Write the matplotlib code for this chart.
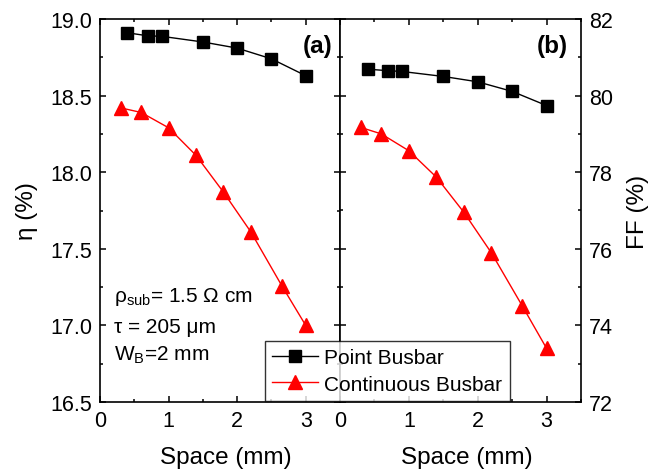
import numpy as np
import matplotlib
matplotlib.use("Agg")
import matplotlib.pyplot as plt
from matplotlib.ticker import MultipleLocator

plt.rcParams['font.family'] = ['Liberation Sans', 'DejaVu Sans']
plt.rcParams['mathtext.fontset'] = 'custom'
plt.rcParams['mathtext.rm'] = 'Liberation Sans'
plt.rcParams['mathtext.default'] = 'regular'

# Datos
x_point = [0.4, 0.7, 0.9, 1.5, 2.0, 2.5, 3.0]
x_cont = [0.3, 0.6, 1.0, 1.4, 1.8, 2.2, 2.65, 3.0]

eta_point = [18.91, 18.89, 18.887, 18.85, 18.81, 18.74, 18.63]
eta_cont = [18.42, 18.39, 18.29, 18.11, 17.87, 17.61, 17.26, 17.0]

ff_point = [80.69, 80.65, 80.63, 80.50, 80.36, 80.11, 79.74]
ff_cont = [79.17, 79.0, 78.56, 77.87, 76.95, 75.89, 74.50, 73.40]

fig = plt.figure(figsize=(6.5, 4.77), dpi=100)
ax1 = fig.add_axes([100/650, 74/477, 240/650, 383/477])
ax2 = fig.add_axes([340/650, 74/477, 241/650, 383/477])

def estilo(ax):
    ax.set_xlim(0, 3.5)
    ax.xaxis.set_major_locator(MultipleLocator(1))
    ax.xaxis.set_minor_locator(MultipleLocator(0.5))
    ax.tick_params(which='both', direction='in', top=True, bottom=True,
                   left=True, right=True, labelsize=15.5, width=1.1)
    ax.tick_params(which='major', length=4.5, pad=5.5)
    ax.tick_params(which='minor', length=2.5)
    for s in ax.spines.values():
        s.set_linewidth(1.2)
    ax.set_xlabel('Space (mm)', fontsize=17.5)
    ax.xaxis.set_label_coords(0.525, -0.115)

# Panel (a)
l1, = ax1.plot(x_point, eta_point, color='black', lw=1, marker='s', ms=8.5,
               label='Point Busbar')
l2, = ax1.plot(x_cont, eta_cont, color='red', lw=1, marker='^', ms=10,
               label='Continuous Busbar')
estilo(ax1)
ax1.set_ylim(16.5, 19.0)
ax1.yaxis.set_major_locator(MultipleLocator(0.5))
ax1.yaxis.set_minor_locator(MultipleLocator(0.25))
ax1.yaxis.set_major_formatter(matplotlib.ticker.FormatStrFormatter('%.1f'))
ax1.set_ylabel('η (%)', fontsize=17.5, labelpad=9)
ax1.text(0.905, 0.93, '(a)', transform=ax1.transAxes, fontsize=17.5,
         fontweight='bold', ha='center', va='center')
ax1.text(0.06, 0.278, r'ρ$_{sub}$= 1.5 Ω cm', transform=ax1.transAxes,
         fontsize=15, va='center')
ax1.text(0.06, 0.196, 'τ = 205 μm', transform=ax1.transAxes,
         fontsize=15, va='center')
ax1.text(0.06, 0.125, r'W$_{B}$=2 mm', transform=ax1.transAxes,
         fontsize=15, va='center')

# Panel (b)
ax2.plot(x_point, ff_point, color='black', lw=1, marker='s', ms=8.5)
ax2.plot(x_cont, ff_cont, color='red', lw=1, marker='^', ms=10)
estilo(ax2)
ax2.set_ylim(72, 82)
ax2.yaxis.set_major_locator(MultipleLocator(2))
ax2.yaxis.set_minor_locator(MultipleLocator(1))
ax2.tick_params(axis='y', labelleft=False, labelright=True)
ax2.yaxis.set_label_position('right')
ax2.set_ylabel('FF (%)', fontsize=17.5, labelpad=10)
ax2.text(0.88, 0.93, '(b)', transform=ax2.transAxes, fontsize=17.5,
         fontweight='bold', ha='center', va='center')

leg = fig.legend(handles=[l1, l2], loc='upper left',
                 bbox_to_anchor=(265/650, (477-342)/477), borderaxespad=0,
                 fontsize=15, frameon=True, fancybox=False, handlelength=2.2,
                 handletextpad=0.3, borderpad=0.35, labelspacing=0.35)
leg.get_frame().set_edgecolor('black')
leg.get_frame().set_linewidth(1)
leg.set_zorder(10)

fig.savefig('out.png', dpi=100)
